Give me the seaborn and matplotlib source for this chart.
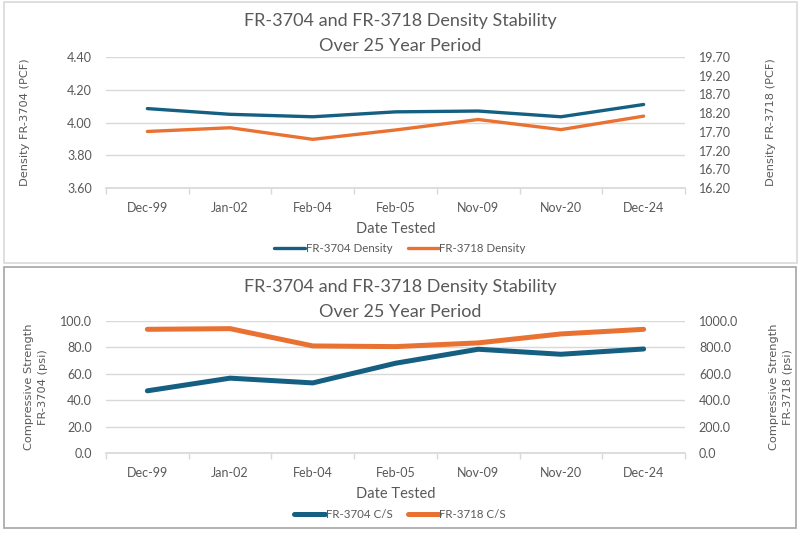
import matplotlib
matplotlib.use("Agg")
import matplotlib.pyplot as plt
import numpy as np
import pandas as pd
import seaborn as sns
from matplotlib.patches import Rectangle
from matplotlib.ticker import FixedLocator, FormatStrFormatter

dates = ["Dec-99", "Jan-02", "Feb-04", "Feb-05", "Nov-09", "Nov-20", "Dec-24"]

density_3704 = [4.085, 4.05, 4.035, 4.065, 4.07, 4.035, 4.11]
density_3718 = [17.71, 17.81, 17.50, 17.75, 18.03, 17.76, 18.12]

cs_3704 = [47.1, 56.7, 53.1, 68.0, 78.6, 74.8, 78.8]
cs_3718 = [937.0, 942.0, 811.0, 806.0, 834.0, 902.0, 937.0]

BLUE = "#156082"
ORANGE = "#E97132"
GRID = "#D9D9D9"
TEXT = "#595959"

sns.set_theme(style="white")
plt.rcParams["font.family"] = ["Lato", "DejaVu Sans"]

fig = plt.figure(figsize=(8, 5.34), dpi=100)


def style_axes(ax, ax2, left_lim, left_ticks, left_fmt, right_lim, right_ticks, right_fmt):
    ax.set_xlim(-0.5, len(dates) - 0.5)
    ax.set_ylim(*left_lim)
    ax2.set_ylim(*right_lim)
    ax.yaxis.set_major_locator(FixedLocator(left_ticks))
    ax2.yaxis.set_major_locator(FixedLocator(right_ticks))
    ax.yaxis.set_major_formatter(FormatStrFormatter(left_fmt))
    ax2.yaxis.set_major_formatter(FormatStrFormatter(right_fmt))
    ax.grid(axis="y", color=GRID, linewidth=1)
    ax.set_axisbelow(True)
    for a in (ax, ax2):
        for s in a.spines.values():
            s.set_visible(False)
        a.tick_params(axis="y", length=0, labelsize=9, colors=TEXT, pad=10)
    ax.spines["bottom"].set_visible(True)
    ax.spines["bottom"].set_color(GRID)
    ax.xaxis.set_minor_locator(FixedLocator(np.arange(-0.5, len(dates), 1.0)))
    ax.tick_params(axis="x", which="major", length=0, labelsize=9, colors=TEXT, pad=10)
    ax.tick_params(axis="x", which="minor", length=4, color=GRID, bottom=True)
    ax.set_xlabel("Date Tested", fontsize=10.5, color=TEXT, labelpad=6)


def draw_panel(rect, box, s1, s2, names, left_label, right_label, lw, lims, legend_y, title_y, label_x):
    fig.add_artist(Rectangle((box[0], box[1]), box[2], box[3], transform=fig.transFigure,
                             fill=False, edgecolor=box[4], linewidth=1.2))
    ax = fig.add_axes(rect)
    ax2 = ax.twinx()
    df = pd.DataFrame({"date": dates, "a": s1, "b": s2})
    sns.lineplot(data=df, x="date", y="a", ax=ax, color=BLUE, linewidth=lw, sort=False, label=names[0], legend=False)
    sns.lineplot(data=df, x="date", y="b", ax=ax2, color=ORANGE, linewidth=lw, sort=False, label=names[1], legend=False)
    style_axes(ax, ax2, *lims)
    ax.set_ylabel("")
    ax2.set_ylabel("")
    fig.text(label_x[0], rect[1] + rect[3] / 2, left_label, rotation=90, ha="center", va="center",
             fontsize=8.2, color=TEXT, family="DejaVu Sans", linespacing=1.5)
    fig.text(label_x[1], rect[1] + rect[3] / 2, right_label, rotation=90, ha="center", va="center",
             fontsize=8.2, color=TEXT, family="DejaVu Sans", linespacing=1.5)
    fig.text(0.5, title_y[0], "FR-3704 and FR-3718 Density Stability", ha="center",
             va="center", fontsize=13, color=TEXT)
    fig.text(0.5, title_y[1], "Over 25 Year Period", ha="center",
             va="center", fontsize=13, color=TEXT)
    handles = ax.get_lines()[:1] + ax2.get_lines()[:1]
    fig.legend(handles, names, loc="center", bbox_to_anchor=(0.5, legend_y), ncol=2, frameon=False,
               fontsize=8.3, labelcolor=TEXT, handlelength=2.7, handletextpad=0.05, columnspacing=1.3)
    return ax, ax2


draw_panel(
    [106 / 800, 1 - 188 / 534, 579 / 800, 131 / 534],
    (4 / 800, 1 - 263 / 534, 793 / 800, 261 / 534, "#D9D9D9"),
    density_3704, density_3718,
    ["FR-3704 Density", "FR-3718 Density"],
    "Density FR-3704 (PCF)", "Density FR-3718 (PCF)",
    2.4,
    ((3.60, 4.40), [3.6, 3.8, 4.0, 4.2, 4.4], "%.2f",
     (16.20, 19.70), [16.2, 16.7, 17.2, 17.7, 18.2, 18.7, 19.2, 19.7], "%.2f"),
    1 - 249 / 534, (1 - 21 / 534, 1 - 46 / 534), (25 / 800, 771 / 800),
)

draw_panel(
    [106 / 800, 1 - 453 / 534, 579 / 800, 132 / 534],
    (4 / 800, 1 - 528 / 534, 792 / 800, 261 / 534, "#A6A6A6"),
    cs_3704, cs_3718,
    ["FR-3704 C/S", "FR-3718 C/S"],
    "Compressive Strength\nFR-3704 (psi)", "Compressive Strength\nFR-3718 (psi)",
    3.6,
    ((0, 100), [0, 20, 40, 60, 80, 100], "%.1f",
     (0, 1000), [0, 200, 400, 600, 800, 1000], "%.1f"),
    1 - 515 / 534, (1 - 287 / 534, 1 - 312 / 534), (36 / 800, 781 / 800),
)

fig.savefig("out.png", dpi=100, facecolor="white")
